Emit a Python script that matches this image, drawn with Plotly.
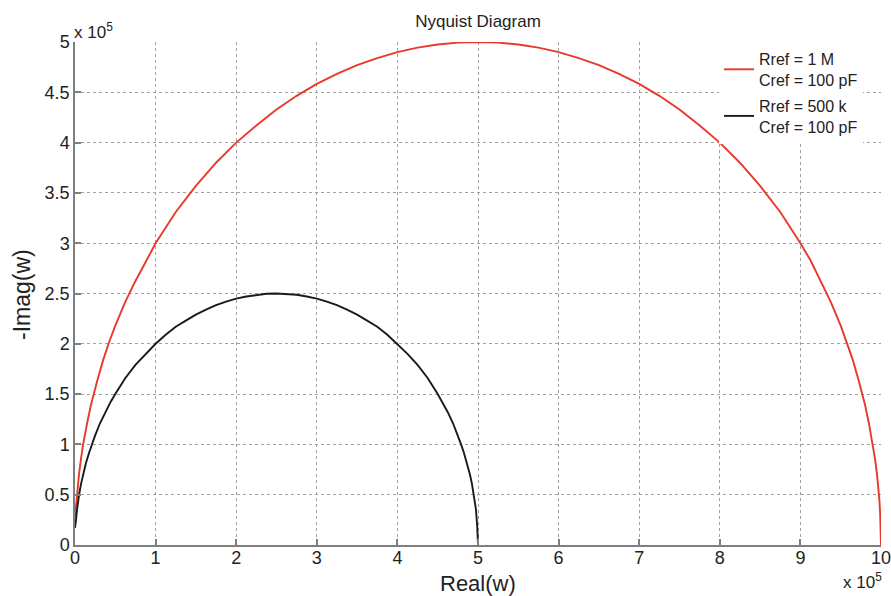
import plotly.graph_objects as go

# values in units of 1e5
red_x = [0.0, 0.005, 0.01, 0.02, 0.035, 0.05, 0.075, 0.1, 0.15, 0.2, 0.275, 0.35, 0.425, 0.5, 0.625, 0.75, 0.875,
         1.0, 1.25, 1.5, 1.75, 2.0, 2.25, 2.5, 2.75, 3.0, 3.25, 3.5, 3.75, 4.0, 4.25, 4.5, 4.75, 5.0,
         5.25, 5.5, 5.75, 6.0, 6.25, 6.5, 6.75, 7.0, 7.25, 7.5, 7.75, 8.0, 8.25, 8.5, 8.75, 9.0, 9.125, 9.25,
         9.375, 9.5, 9.575, 9.65, 9.725, 9.8, 9.85, 9.9, 9.925, 9.95, 9.965, 9.98, 9.99, 10.0]
red_y = [0.28, 0.30, 0.36, 0.45, 0.59, 0.705, 0.862, 0.995, 1.21, 1.40, 1.63, 1.84, 2.02, 2.18, 2.42, 2.625, 2.81,
         3.0, 3.31, 3.57, 3.80, 4.0, 4.17, 4.33, 4.465, 4.583, 4.684, 4.77, 4.84, 4.90, 4.944, 4.975, 4.994, 5.0,
         4.994, 4.975, 4.944, 4.90, 4.84, 4.77, 4.684, 4.583, 4.465, 4.33, 4.17, 4.0, 3.80, 3.57, 3.31, 3.0, 2.83, 2.63,
         2.42, 2.18, 2.02, 1.84, 1.63, 1.40, 1.21, 0.995, 0.862, 0.705, 0.59, 0.45, 0.30, 0.0]

blk_x = [0.0, 0.005, 0.0125, 0.025, 0.0375, 0.05, 0.075, 0.1, 0.135, 0.175, 0.21, 0.25, 0.31, 0.375, 0.44, 0.5,
         0.625, 0.75, 0.875, 1.0, 1.125, 1.25, 1.375, 1.5, 1.625, 1.75, 1.875, 2.0, 2.125, 2.25, 2.375, 2.5,
         2.625, 2.75, 2.875, 3.0, 3.125, 3.25, 3.375, 3.5, 3.625, 3.75, 3.875, 4.0, 4.125, 4.25, 4.375, 4.5,
         4.56, 4.625, 4.69, 4.75, 4.79, 4.825, 4.865, 4.9, 4.925, 4.95, 4.9625, 4.975, 4.99, 5.0]
blk_y = [0.17, 0.19, 0.25, 0.352, 0.431, 0.497, 0.608, 0.70, 0.812, 0.917, 1.00, 1.09, 1.21, 1.32, 1.42, 1.50,
         1.66, 1.79, 1.90, 2.0, 2.09, 2.17, 2.23, 2.29, 2.34, 2.385, 2.42, 2.449, 2.47, 2.487, 2.497, 2.5,
         2.497, 2.487, 2.47, 2.449, 2.42, 2.385, 2.34, 2.29, 2.23, 2.17, 2.09, 2.0, 1.90, 1.79, 1.66, 1.50,
         1.42, 1.32, 1.21, 1.09, 1.00, 0.917, 0.812, 0.70, 0.608, 0.497, 0.431, 0.352, 0.19, 0.0]

x_ticks = list(range(0, 11))
y_ticks = [0, 0.5, 1, 1.5, 2, 2.5, 3, 3.5, 4, 4.5, 5]
y_tick_text = ["0", "0.5", "1", "1.5", "2", "2.5", "3", "3.5", "4", "4.5", "5"]

FONT = "Liberation Sans, Arial, Helvetica"
TXT = "#222222"

fig = go.Figure()
fig.add_trace(go.Scatter(x=red_x, y=red_y, mode="lines", legendgroup="a",
                         line=dict(color="#e8392b", width=1.9),
                         name="Rref = 1 M<br>Cref = 100 pF"))
fig.add_trace(go.Scatter(x=blk_x, y=blk_y, mode="lines", legendgroup="b",
                         line=dict(color="#1a1a1a", width=1.9),
                         name="Rref = 500 k<br>Cref = 100 pF"))

axis_common = dict(
    showgrid=True, gridcolor="#a0a0a0", griddash="dot", gridwidth=1,
    zeroline=False, showline=True, linecolor="#7f7f7f", linewidth=1.5,
    ticks="inside", ticklen=6, tickcolor="#7f7f7f", tickwidth=1.5,
    tickfont=dict(family=FONT, size=18, color=TXT),
    mirror=False, automargin=False, ticklabeloverflow="allow",
)

fig.update_layout(
    width=891, height=596,
    margin=dict(l=75, r=10, t=42, b=51),
    plot_bgcolor="white", paper_bgcolor="white",
    title=dict(text="Nyquist Diagram", xref="paper", x=0.5, xanchor="center",
               yref="container", y=1 - 21 / 596, yanchor="middle",
               font=dict(family=FONT, size=17, color=TXT)),
    xaxis=dict(range=[0, 10], tickvals=x_ticks, ticktext=[str(v) for v in x_ticks],
               ticklabelstandoff=-4, **axis_common),
    yaxis=dict(range=[0, 5], tickvals=y_ticks, ticktext=y_tick_text,
               ticklabelstandoff=0, **axis_common),
    legend=dict(x=(719 - 75) / 806, y=1.0, xanchor="left", yanchor="top", bgcolor="white",
                font=dict(family=FONT, size=16, color=TXT), traceorder="grouped",
                tracegroupgap=2, itemwidth=30, valign="middle"),
    showlegend=True,
)

# axis titles
fig.add_annotation(text="Real(w)", xref="paper", yref="paper", x=0.5, y=0, xanchor="center", yanchor="middle",
                   yshift=-38, showarrow=False, font=dict(family=FONT, size=22, color=TXT))
fig.add_annotation(text="-Imag(w)", xref="paper", yref="paper", x=0, y=0.497, xanchor="center", yanchor="middle",
                   xshift=-53, textangle=-90, showarrow=False, font=dict(family=FONT, size=23, color=TXT))

# exponent labels
fig.add_annotation(text="x 10<sup>5</sup>", xref="paper", yref="paper", x=0.0, y=1.0, xanchor="left", yanchor="bottom",
                   showarrow=False, xshift=-3, yshift=-2, font=dict(family=FONT, size=17, color=TXT))
fig.add_annotation(text="x 10<sup>5</sup>", xref="paper", yref="paper", x=1.0, y=0.0, xanchor="right", yanchor="top",
                   showarrow=False, yshift=-23, xshift=3, font=dict(family=FONT, size=17, color=TXT))

fig.write_html("out.html", config={"displayModeBar": False},
               post_script="document.body.style.margin='0';document.body.style.overflow='hidden';")
